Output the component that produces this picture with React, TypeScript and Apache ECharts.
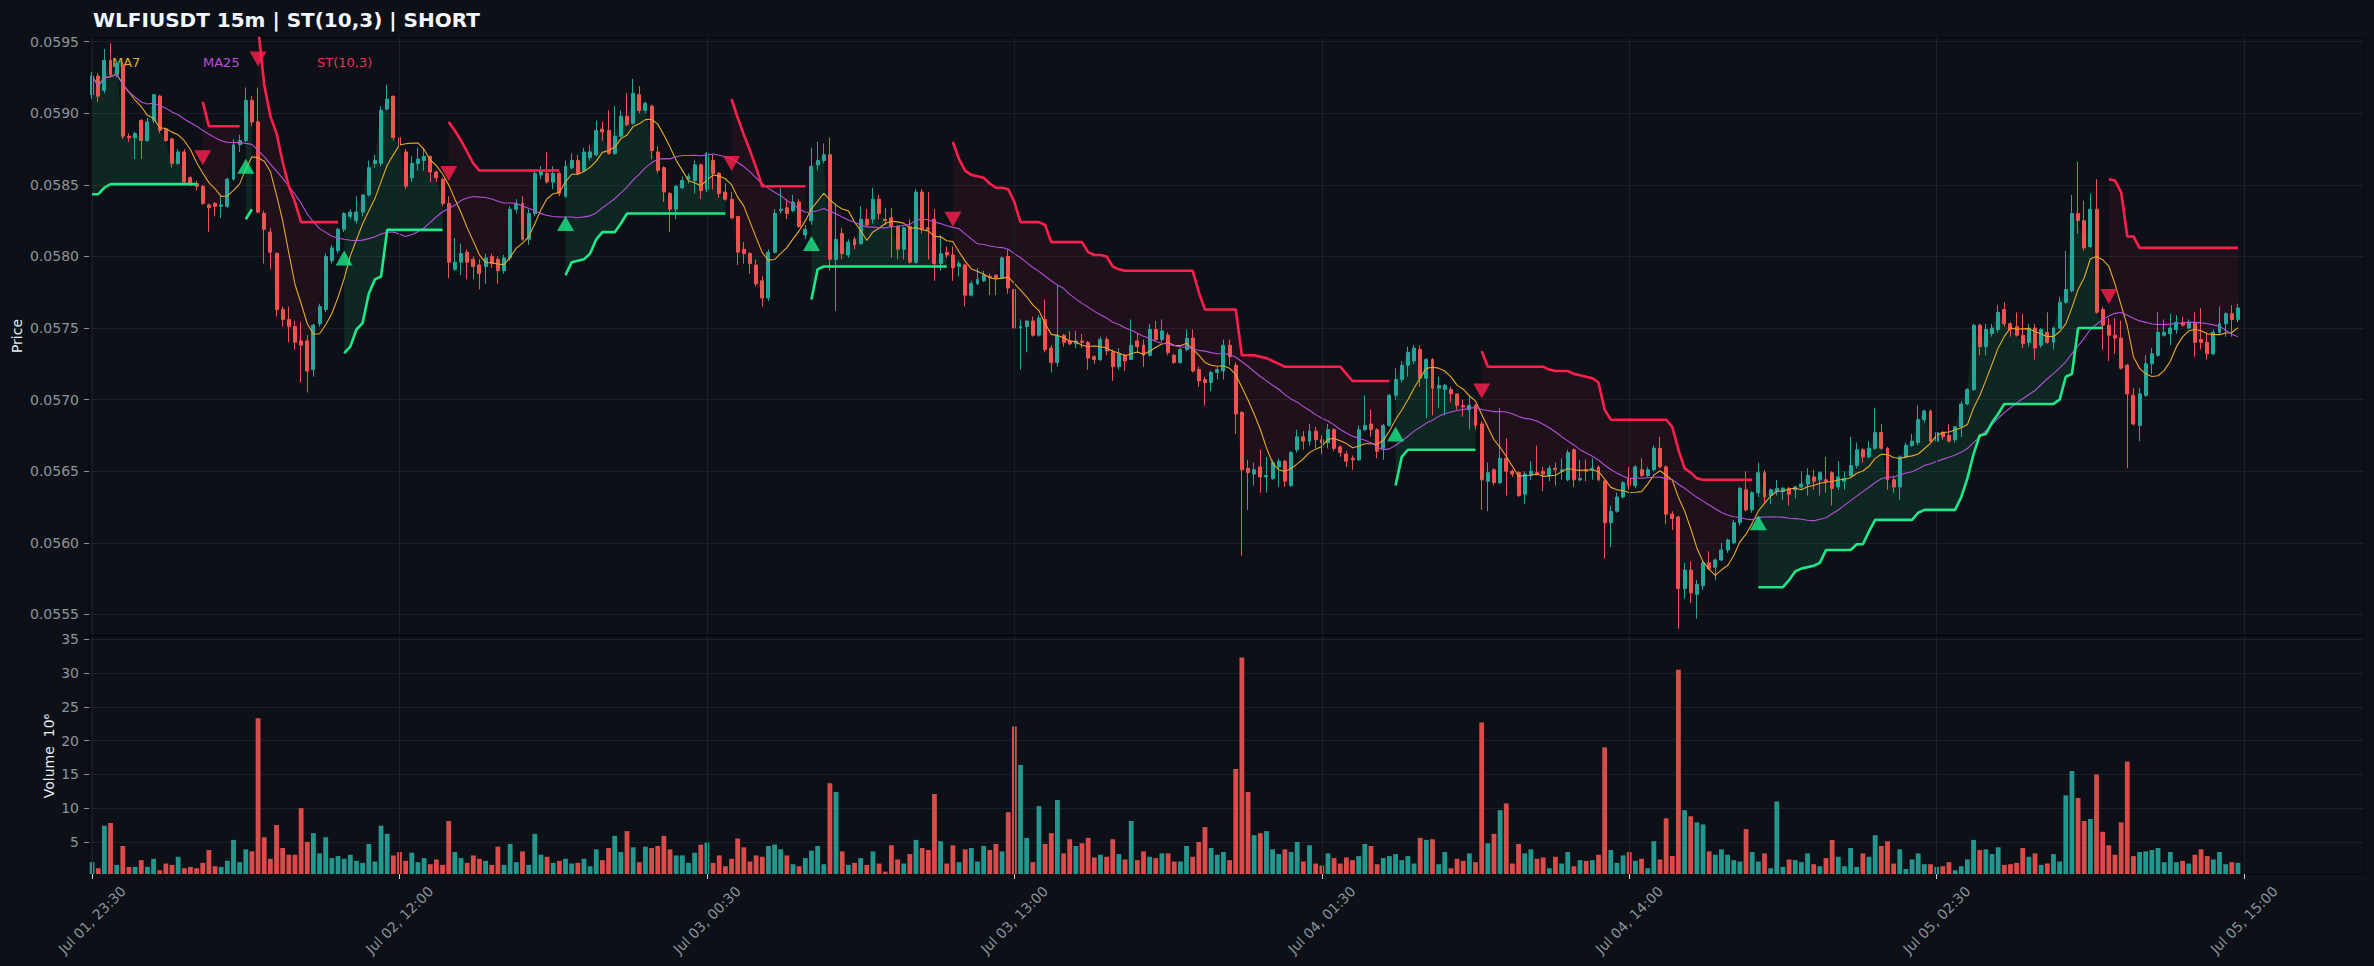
import React, { useEffect, useRef } from "react";
import * as echarts from "echarts";

// ---------- DATA (15m candles, WLFIUSDT) ----------
const opens = [
0.05913,0.05926,0.05916,0.05937,0.05927,0.05934,0.05884,0.05883,0.05895,0.05881,
0.05895,0.05912,0.05889,0.05882,0.05865,0.05873,0.05855,0.05851,0.05849,0.05836,
0.05837,0.05835,0.05835,0.05854,0.05878,0.05881,0.05909,0.05894,0.05830,0.05817,
0.05802,0.05763,0.05756,0.05751,0.05741,0.05741,0.05721,0.05753,0.05763,0.05797,
0.05804,0.05819,0.05828,0.05825,0.05831,0.05843,0.05865,0.05865,0.05903,0.05912,
0.05883,0.05873,0.05855,0.05865,0.05867,0.05870,0.05859,0.05854,0.05837,0.05791,
0.05796,0.05803,0.05798,0.05794,0.05793,0.05800,0.05798,0.05790,0.05799,0.05833,
0.05837,0.05812,0.05830,0.05857,0.05858,0.05852,0.05858,0.05842,0.05862,0.05867,
0.05860,0.05869,0.05871,0.05889,0.05888,0.05872,0.05884,0.05898,0.05893,0.05913,
0.05902,0.05905,0.05873,0.05862,0.05844,0.05833,0.05848,0.05854,0.05853,0.05864,
0.05847,0.05867,0.05858,0.05845,0.05840,0.05828,0.05805,0.05802,0.05794,0.05783,
0.05771,0.05803,0.05832,0.05834,0.05832,0.05838,0.05815,0.05825,0.05864,0.05867,
0.05871,0.05798,0.05816,0.05801,0.05812,0.05809,0.05826,0.05826,0.05840,0.05826,
0.05827,0.05821,0.05805,0.05821,0.05796,0.05845,0.05820,0.05826,0.05795,0.05803,
0.05801,0.05793,0.05794,0.05773,0.05781,0.05783,0.05786,0.05787,0.05785,0.05800,
0.05777,0.05750,0.05751,0.05755,0.05745,0.05756,0.05736,0.05726,0.05745,0.05741,
0.05739,0.05741,0.05740,0.05730,0.05728,0.05742,0.05733,0.05723,0.05731,0.05728,
0.05741,0.05738,0.05731,0.05749,0.05742,0.05745,0.05731,0.05726,0.05735,0.05743,
0.05721,0.05714,0.05712,0.05719,0.05720,0.05738,0.05724,0.05691,0.05652,0.05648,
0.05653,0.05646,0.05645,0.05653,0.05657,0.05640,0.05665,0.05674,0.05671,0.05678,
0.05672,0.05670,0.05679,0.05667,0.05662,0.05659,0.05658,0.05679,0.05683,0.05679,
0.05666,0.05682,0.05703,0.05714,0.05724,0.05727,0.05735,0.05715,0.05728,0.05708,
0.05707,0.05707,0.05704,0.05696,0.05693,0.05696,0.05683,0.05643,0.05651,0.05642,
0.05659,0.05650,0.05649,0.05634,0.05647,0.05649,0.05650,0.05647,0.05652,0.05650,
0.05644,0.05665,0.05644,0.05651,0.05651,0.05653,0.05643,0.05614,0.05622,0.05632,
0.05645,0.05640,0.05651,0.05647,0.05651,0.05666,0.05653,0.05620,0.05618,0.05568,
0.05581,0.05564,0.05570,0.05586,0.05583,0.05588,0.05595,0.05600,0.05614,0.05637,
0.05623,0.05635,0.05649,0.05633,0.05636,0.05636,0.05638,0.05637,0.05639,0.05641,
0.05646,0.05644,0.05644,0.05649,0.05639,0.05643,0.05647,0.05654,0.05665,0.05660,
0.05666,0.05677,0.05666,0.05644,0.05639,0.05660,0.05668,0.05670,0.05686,0.05692,
0.05671,0.05677,0.05675,0.05672,0.05681,0.05697,0.05707,0.05752,0.05737,0.05746,
0.05749,0.05763,0.05753,0.05751,0.05745,0.05740,0.05750,0.05738,0.05747,0.05740,
0.05750,0.05768,0.05776,0.05830,0.05825,0.05807,0.05833,0.05763,0.05752,0.05745,
0.05743,0.05724,0.05703,0.05682,0.05703,0.05725,0.05731,0.05745,0.05746,0.05749,
0.05754,0.05750,0.05754,0.05742,0.05740,0.05732,0.05747,0.05753,0.05760,0.05756,
];

const highs = [
0.05929,0.05928,0.05945,0.05949,0.05937,0.05936,0.05886,0.05887,0.05896,0.05897,
0.05913,0.05913,0.05890,0.05883,0.05875,0.05875,0.05856,0.05853,0.05850,0.05837,
0.05838,0.05842,0.05855,0.05882,0.05885,0.05918,0.05912,0.05918,0.05832,0.05820,
0.05803,0.05765,0.05765,0.05755,0.05754,0.05745,0.05753,0.05767,0.05802,0.05808,
0.05820,0.05831,0.05833,0.05842,0.05843,0.05867,0.05871,0.05905,0.05920,0.05912,
0.05894,0.05875,0.05870,0.05876,0.05876,0.05870,0.05860,0.05855,0.05842,0.05813,
0.05809,0.05805,0.05800,0.05798,0.05802,0.05802,0.05800,0.05801,0.05835,0.05840,
0.05842,0.05833,0.05860,0.05863,0.05873,0.05863,0.05859,0.05867,0.05872,0.05871,
0.05876,0.05878,0.05895,0.05894,0.05902,0.05905,0.05902,0.05914,0.05924,0.05919,
0.05908,0.05906,0.05877,0.05863,0.05845,0.05850,0.05856,0.05858,0.05867,0.05865,
0.05873,0.05871,0.05859,0.05851,0.05845,0.05828,0.05810,0.05803,0.05798,0.05786,
0.05805,0.05833,0.05848,0.05840,0.05843,0.05840,0.05822,0.05876,0.05880,0.05879,
0.05883,0.05837,0.05820,0.05812,0.05814,0.05835,0.05833,0.05848,0.05843,0.05834,
0.05834,0.05822,0.05821,0.05826,0.05847,0.05847,0.05845,0.05833,0.05815,0.05807,
0.05807,0.05797,0.05795,0.05783,0.05792,0.05790,0.05788,0.05787,0.05800,0.05805,
0.05778,0.05756,0.05755,0.05758,0.05759,0.05770,0.05738,0.05780,0.05746,0.05748,
0.05748,0.05746,0.05741,0.05731,0.05744,0.05744,0.05735,0.05736,0.05732,0.05756,
0.05746,0.05742,0.05753,0.05755,0.05756,0.05747,0.05732,0.05736,0.05749,0.05749,
0.05723,0.05716,0.05720,0.05723,0.05742,0.05742,0.05726,0.05692,0.05658,0.05656,
0.05665,0.05660,0.05658,0.05659,0.05658,0.05664,0.05679,0.05678,0.05683,0.05681,
0.05675,0.05683,0.05680,0.05668,0.05664,0.05661,0.05682,0.05703,0.05693,0.05680,
0.05683,0.05704,0.05722,0.05727,0.05737,0.05738,0.05738,0.05729,0.05729,0.05716,
0.05711,0.05709,0.05704,0.05700,0.05703,0.05697,0.05685,0.05656,0.05652,0.05694,
0.05673,0.05651,0.05650,0.05650,0.05657,0.05668,0.05653,0.05654,0.05656,0.05659,
0.05665,0.05666,0.05658,0.05658,0.05659,0.05654,0.05644,0.05626,0.05635,0.05643,
0.05653,0.05654,0.05659,0.05653,0.05668,0.05674,0.05654,0.05622,0.05619,0.05586,
0.05587,0.05574,0.05588,0.05594,0.05589,0.05600,0.05603,0.05616,0.05639,0.05650,
0.05636,0.05656,0.05651,0.05638,0.05644,0.05639,0.05639,0.05640,0.05650,0.05652,
0.05651,0.05650,0.05660,0.05650,0.05657,0.05650,0.05674,0.05670,0.05666,0.05671,
0.05694,0.05683,0.05667,0.05647,0.05661,0.05670,0.05676,0.05696,0.05693,0.05693,
0.05678,0.05678,0.05683,0.05681,0.05699,0.05708,0.05753,0.05753,0.05753,0.05753,
0.05766,0.05768,0.05754,0.05761,0.05760,0.05753,0.05753,0.05750,0.05761,0.05751,
0.05772,0.05804,0.05843,0.05866,0.05839,0.05844,0.05854,0.05765,0.05757,0.05757,
0.05755,0.05725,0.05708,0.05708,0.05731,0.05736,0.05761,0.05756,0.05760,0.05759,
0.05758,0.05756,0.05761,0.05764,0.05746,0.05749,0.05765,0.05761,0.05766,0.05767,
];

const lows = [
0.05910,0.05908,0.05914,0.05925,0.05925,0.05882,0.05880,0.05868,0.05868,0.05880,
0.05893,0.05886,0.05880,0.05862,0.05864,0.05850,0.05849,0.05846,0.05836,0.05817,
0.05828,0.05827,0.05834,0.05853,0.05873,0.05880,0.05891,0.05830,0.05795,0.05791,
0.05758,0.05751,0.05740,0.05735,0.05712,0.05705,0.05716,0.05751,0.05761,0.05795,
0.05802,0.05817,0.05826,0.05823,0.05828,0.05842,0.05862,0.05863,0.05902,0.05881,
0.05874,0.05847,0.05852,0.05860,0.05860,0.05852,0.05852,0.05835,0.05785,0.05790,
0.05787,0.05784,0.05784,0.05777,0.05781,0.05792,0.05781,0.05788,0.05797,0.05830,
0.05811,0.05808,0.05828,0.05854,0.05851,0.05847,0.05842,0.05841,0.05861,0.05857,
0.05859,0.05867,0.05870,0.05881,0.05871,0.05871,0.05883,0.05891,0.05892,0.05900,
0.05900,0.05868,0.05858,0.05838,0.05817,0.05826,0.05847,0.05851,0.05844,0.05840,
0.05845,0.05847,0.05841,0.05839,0.05826,0.05794,0.05795,0.05788,0.05779,0.05765,
0.05769,0.05802,0.05830,0.05826,0.05831,0.05820,0.05812,0.05822,0.05860,0.05865,
0.05790,0.05762,0.05798,0.05799,0.05805,0.05808,0.05821,0.05823,0.05826,0.05822,
0.05799,0.05798,0.05798,0.05795,0.05795,0.05816,0.05798,0.05783,0.05790,0.05799,
0.05783,0.05786,0.05765,0.05772,0.05780,0.05782,0.05773,0.05773,0.05784,0.05774,
0.05721,0.05721,0.05733,0.05744,0.05744,0.05733,0.05719,0.05723,0.05737,0.05738,
0.05736,0.05736,0.05721,0.05725,0.05727,0.05731,0.05713,0.05721,0.05720,0.05728,
0.05733,0.05723,0.05730,0.05741,0.05740,0.05731,0.05725,0.05725,0.05734,0.05719,
0.05709,0.05696,0.05706,0.05714,0.05714,0.05724,0.05676,0.05591,0.05623,0.05640,
0.05635,0.05635,0.05644,0.05639,0.05639,0.05639,0.05663,0.05665,0.05668,0.05666,
0.05662,0.05666,0.05664,0.05660,0.05653,0.05651,0.05657,0.05678,0.05674,0.05659,
0.05658,0.05681,0.05700,0.05712,0.05716,0.05725,0.05709,0.05687,0.05689,0.05694,
0.05689,0.05698,0.05693,0.05688,0.05679,0.05679,0.05623,0.05622,0.05640,0.05641,
0.05633,0.05646,0.05632,0.05627,0.05644,0.05647,0.05636,0.05643,0.05640,0.05644,
0.05643,0.05639,0.05643,0.05643,0.05644,0.05643,0.05589,0.05597,0.05621,0.05631,
0.05637,0.05638,0.05646,0.05646,0.05650,0.05652,0.05613,0.05609,0.05540,0.05561,
0.05558,0.05547,0.05567,0.05581,0.05574,0.05587,0.05593,0.05599,0.05612,0.05622,
0.05621,0.05632,0.05628,0.05627,0.05633,0.05630,0.05626,0.05631,0.05637,0.05633,
0.05637,0.05633,0.05635,0.05626,0.05637,0.05637,0.05646,0.05652,0.05656,0.05659,
0.05665,0.05665,0.05637,0.05635,0.05630,0.05659,0.05667,0.05668,0.05684,0.05670,
0.05669,0.05672,0.05670,0.05670,0.05674,0.05696,0.05706,0.05731,0.05731,0.05744,
0.05747,0.05751,0.05744,0.05744,0.05736,0.05737,0.05728,0.05736,0.05739,0.05735,
0.05749,0.05767,0.05775,0.05816,0.05804,0.05806,0.05760,0.05735,0.05727,0.05732,
0.05721,0.05652,0.05682,0.05671,0.05702,0.05718,0.05730,0.05744,0.05738,0.05746,
0.05751,0.05749,0.05730,0.05735,0.05728,0.05731,0.05746,0.05744,0.05744,0.05754,
];

const closes = [
0.05926,0.05912,0.05937,0.05927,0.05935,0.05884,0.05883,0.05886,0.05881,0.05894,
0.05913,0.05888,0.05881,0.05865,0.05873,0.05852,0.05851,0.05849,0.05837,0.05834,
0.05835,0.05836,0.05854,0.05878,0.05881,0.05909,0.05894,0.05831,0.05819,0.05803,
0.05763,0.05756,0.05751,0.05740,0.05738,0.05720,0.05752,0.05765,0.05800,0.05806,
0.05819,0.05830,0.05831,0.05831,0.05843,0.05862,0.05867,0.05902,0.05910,0.05883,
0.05878,0.05849,0.05865,0.05868,0.05870,0.05859,0.05855,0.05837,0.05796,0.05796,
0.05802,0.05796,0.05793,0.05788,0.05799,0.05795,0.05790,0.05799,0.05833,0.05837,
0.05812,0.05830,0.05858,0.05860,0.05852,0.05858,0.05844,0.05863,0.05867,0.05858,
0.05873,0.05873,0.05888,0.05887,0.05872,0.05884,0.05898,0.05892,0.05914,0.05902,
0.05907,0.05874,0.05860,0.05845,0.05833,0.05849,0.05853,0.05856,0.05864,0.05846,
0.05872,0.05858,0.05844,0.05840,0.05827,0.05803,0.05802,0.05795,0.05781,0.05771,
0.05803,0.05830,0.05833,0.05830,0.05838,0.05821,0.05819,0.05863,0.05867,0.05871,
0.05798,0.05812,0.05802,0.05810,0.05808,0.05826,0.05822,0.05840,0.05830,0.05825,
0.05821,0.05805,0.05820,0.05796,0.05845,0.05819,0.05819,0.05795,0.05802,0.05801,
0.05792,0.05795,0.05773,0.05781,0.05784,0.05787,0.05785,0.05785,0.05799,0.05778,
0.05750,0.05751,0.05755,0.05745,0.05757,0.05735,0.05726,0.05745,0.05740,0.05739,
0.05741,0.05740,0.05729,0.05728,0.05742,0.05734,0.05723,0.05732,0.05727,0.05738,
0.05737,0.05731,0.05749,0.05742,0.05748,0.05733,0.05726,0.05735,0.05743,0.05720,
0.05713,0.05712,0.05719,0.05721,0.05738,0.05730,0.05690,0.05651,0.05649,0.05651,
0.05646,0.05647,0.05656,0.05657,0.05643,0.05663,0.05674,0.05671,0.05678,0.05672,
0.05670,0.05679,0.05666,0.05663,0.05657,0.05658,0.05679,0.05682,0.05679,0.05664,
0.05682,0.05703,0.05714,0.05724,0.05733,0.05736,0.05715,0.05728,0.05708,0.05710,
0.05710,0.05704,0.05696,0.05695,0.05696,0.05682,0.05644,0.05649,0.05642,0.05659,
0.05650,0.05648,0.05633,0.05648,0.05650,0.05648,0.05648,0.05652,0.05651,0.05651,
0.05663,0.05644,0.05645,0.05650,0.05652,0.05644,0.05614,0.05622,0.05632,0.05642,
0.05640,0.05653,0.05647,0.05651,0.05666,0.05653,0.05620,0.05617,0.05568,0.05581,
0.05565,0.05571,0.05586,0.05582,0.05588,0.05595,0.05602,0.05614,0.05638,0.05623,
0.05635,0.05649,0.05632,0.05637,0.05638,0.05638,0.05634,0.05639,0.05641,0.05647,
0.05643,0.05649,0.05643,0.05638,0.05646,0.05645,0.05654,0.05665,0.05660,0.05666,
0.05677,0.05666,0.05644,0.05639,0.05660,0.05668,0.05671,0.05686,0.05692,0.05671,
0.05677,0.05674,0.05671,0.05681,0.05697,0.05707,0.05752,0.05737,0.05749,0.05750,
0.05761,0.05753,0.05749,0.05745,0.05739,0.05750,0.05736,0.05749,0.05740,0.05750,
0.05768,0.05777,0.05830,0.05825,0.05806,0.05833,0.05761,0.05752,0.05745,0.05743,
0.05722,0.05704,0.05683,0.05704,0.05725,0.05732,0.05747,0.05747,0.05750,0.05754,
0.05752,0.05754,0.05740,0.05740,0.05732,0.05747,0.05753,0.05760,0.05756,0.05764,
];

// volume in millions (axis shows 10^6)
const volumesM = [
2.0,1.1,7.4,7.8,1.6,4.4,1.3,1.3,2.3,1.3,
2.5,0.8,1.8,1.6,2.8,1.1,1.3,1.1,1.9,3.8,
1.4,1.3,2.2,5.3,2.0,3.9,3.6,23.3,5.7,2.5,
7.5,4.1,3.1,3.1,10.0,5.0,6.3,3.3,5.7,2.6,
2.9,2.5,3.1,2.2,1.9,4.7,2.1,7.4,6.2,3.0,
3.5,2.2,3.4,2.0,2.6,1.7,2.4,1.6,8.1,3.5,
2.6,1.9,3.0,2.5,2.2,1.6,4.3,1.6,4.7,2.0,
3.6,1.6,6.2,3.1,2.8,1.9,2.2,2.5,1.8,1.9,
2.5,1.4,3.9,2.3,4.1,5.9,3.5,6.6,4.2,2.0,
4.3,4.1,4.4,5.9,3.9,3.0,3.0,1.9,3.4,4.6,
4.9,1.9,3.0,1.4,2.5,5.5,4.2,2.1,3.0,2.8,
4.4,4.6,3.9,3.0,1.7,1.4,2.6,3.7,4.4,1.7,
13.7,12.4,3.6,1.6,1.9,2.6,1.6,3.6,1.8,0.6,
4.5,2.4,1.8,3.2,5.3,4.1,3.8,12.1,5.1,1.8,
4.5,2.0,3.9,4.1,2.1,4.4,3.8,4.7,3.6,9.4,
22.1,16.4,5.6,2.0,10.3,4.7,6.3,11.2,3.3,5.4,
4.4,4.8,5.6,2.7,3.1,2.8,5.4,3.2,2.4,8.1,
2.3,3.6,2.8,2.6,3.3,3.3,2.1,2.1,4.4,2.8,
5.0,7.2,4.1,3.1,3.5,2.3,15.8,32.3,12.4,6.0,
6.3,6.6,3.9,3.2,3.9,3.5,5.0,2.1,4.5,1.8,
1.5,3.3,2.6,1.8,2.7,2.3,2.9,4.7,4.4,1.7,
2.6,2.9,3.2,2.3,2.9,1.8,5.6,5.3,5.4,1.7,
3.5,1.1,2.5,2.2,3.3,2.0,22.7,4.8,6.2,9.7,
10.7,1.8,4.7,3.3,3.9,2.5,2.7,1.1,2.8,1.8,
3.5,1.4,2.3,2.2,2.3,3.1,19.0,3.8,1.9,3.0,
3.5,2.2,2.5,1.1,5.1,2.4,8.5,2.9,30.5,9.7,
8.8,7.9,7.6,3.6,3.1,3.9,3.1,2.3,2.1,6.9,
3.5,2.1,3.3,1.1,11.0,1.3,2.4,2.3,2.0,3.3,
1.7,1.4,2.6,5.3,2.8,1.4,4.1,1.3,3.3,2.8,
6.0,4.4,5.1,1.8,3.9,1.0,2.4,3.3,1.7,1.7,
1.3,1.4,2.0,0.8,1.4,2.4,5.3,3.8,3.9,3.2,
4.2,1.6,1.7,1.9,4.1,2.8,3.3,1.6,1.8,3.2,
2.1,11.9,15.5,11.5,8.1,8.4,15.0,6.5,4.5,3.1,
7.9,16.9,2.9,3.5,3.6,3.8,4.1,2.0,3.5,2.0,
2.2,1.8,3.1,3.9,2.9,2.4,3.5,1.7,2.0,1.9,
];

// SuperTrend(10,3) line
const stLine = [
0.058435,0.058435,0.05848,0.058505,0.058505,0.058505,0.058505,0.058505,0.058505,0.058505,
0.058505,0.058505,0.058505,0.058505,0.058505,0.058505,0.058505,0.058505,0.05908,0.05891,
0.05891,0.05891,0.05891,0.05891,0.05891,0.05826,0.05833,0.05960,0.05920,0.05898,
0.05886,0.05866,0.05849,0.05838,0.05824,0.05824,0.05824,0.05824,0.05824,0.05824,
0.05824,0.057325,0.05737,0.05749,0.057535,0.05774,0.05784,0.05786,0.058186,0.058186,
0.058186,0.058186,0.058186,0.058186,0.058186,0.058186,0.058186,0.058186,0.05894,0.05888,
0.05881,0.05873,0.05865,0.05860,0.05860,0.05860,0.05860,0.05860,0.05860,0.05860,
0.05860,0.05860,0.05860,0.05860,0.05860,0.05860,0.05860,0.05787,0.05796,0.05797,
0.05798,0.05802,0.05812,0.05817,0.05817,0.05817,0.05823,0.05830,0.05830,0.05830,
0.05830,0.05830,0.05830,0.05830,0.05830,0.05830,0.05830,0.05830,0.05830,0.05830,
0.05830,0.05830,0.05830,0.05830,0.05910,0.05897,0.05885,0.05874,0.05862,0.05849,
0.05849,0.05849,0.05849,0.05849,0.05849,0.05849,0.05849,0.05770,0.05791,0.05793,
0.05793,0.05793,0.05793,0.05793,0.05793,0.05793,0.05793,0.05793,0.05793,0.05793,
0.05793,0.05793,0.05793,0.05793,0.05793,0.05793,0.05793,0.05793,0.05793,0.05793,
0.05880,0.05868,0.05860,0.05857,0.05856,0.05855,0.05851,0.05848,0.05848,0.05847,
0.05838,0.05824,0.05824,0.05824,0.05824,0.05822,0.05810,0.05810,0.05810,0.05810,
0.05810,0.05810,0.05803,0.05801,0.05801,0.05800,0.05793,0.05791,0.05790,0.05790,
0.05790,0.05790,0.05790,0.05790,0.05790,0.05790,0.05790,0.05790,0.05790,0.05790,
0.05775,0.05763,0.05763,0.05763,0.05763,0.05763,0.05763,0.05731,0.05731,0.05731,
0.05730,0.05729,0.05727,0.05725,0.05723,0.05723,0.05723,0.05723,0.05723,0.05723,
0.05723,0.05723,0.05723,0.05723,0.05718,0.05713,0.05713,0.05713,0.05713,0.05713,
0.05713,0.05713,0.05640,0.05660,0.05665,0.05665,0.05665,0.05665,0.05665,0.05665,
0.05665,0.05665,0.05665,0.05665,0.05665,0.05665,0.05734,0.05723,0.05723,0.05723,
0.05723,0.05723,0.05723,0.05723,0.05723,0.05723,0.05723,0.05721,0.05720,0.05720,
0.05720,0.05718,0.05717,0.05716,0.05715,0.05712,0.05693,0.05686,0.05686,0.05686,
0.05686,0.05686,0.05686,0.05686,0.05686,0.05686,0.05686,0.05681,0.05665,0.05652,
0.05649,0.05645,0.05644,0.05644,0.05644,0.05644,0.05644,0.05644,0.05644,0.05644,
0.05644,0.05569,0.05569,0.05569,0.05569,0.05569,0.05574,0.05580,0.05582,0.05583,
0.05584,0.05586,0.05595,0.05595,0.05595,0.05595,0.05595,0.05599,0.05599,0.05608,
0.05616,0.05616,0.05616,0.05616,0.05616,0.05616,0.05616,0.05621,0.05623,0.05623,
0.05623,0.05623,0.05623,0.05623,0.05632,0.05645,0.05662,0.05675,0.05676,0.05684,
0.05690,0.05697,0.05697,0.05697,0.05697,0.05697,0.05697,0.05697,0.05697,0.05697,
0.05700,0.05716,0.05718,0.05750,0.05750,0.05750,0.05750,0.05750,0.05854,0.05853,
0.05845,0.05814,0.05814,0.05806,0.05806,0.05806,0.05806,0.05806,0.05806,0.05806,
0.05806,0.05806,0.05806,0.05806,0.05806,0.05806,0.05806,0.05806,0.05806,0.05806,
];

// candle indexes where the SuperTrend direction flips (starts up)
const stFlips = [18, 25, 27, 41, 58, 77, 104, 117, 140, 212, 226, 271, 328];
const stStartsUp = true;

// signal markers [candle index, price]
const buySignals = [[25, 0.05863], [41, 0.05799], [77, 0.05823], [117, 0.05809], [212, 0.05676], [271, 0.05614]];
const sellSignals = [[18, 0.05869], [27, 0.05938], [58, 0.05858], [104, 0.05865], [140, 0.05826], [226, 0.05706], [328, 0.05772]];

// axis ticks
const priceTicks = [0.0555, 0.056, 0.0565, 0.057, 0.0575, 0.058, 0.0585, 0.059, 0.0595];
const volumeTicks = [5, 10, 15, 20, 25, 30, 35];

// time axis
const startTimeUTC = Date.UTC(2025, 6, 1, 23, 30);
const candleMinutes = 15;
const axisSlots = 370;
const labelEvery = 50;
const monthNames = ["Jan","Feb","Mar","Apr","May","Jun","Jul","Aug","Sep","Oct","Nov","Dec"];

// ---------- STYLE ----------
const BG = "#0d1117";
const GRIDC = "#1b2028";
const UP = "#26a69a";
const DOWN = "#ef5350";
const MA7C = "#e8a82a";
const MA25C = "#b64fd8";
const STR = "#ff1f4d";
const STG = "#1de88a";
const TICKC = "#8b949e";
const FONT = "DejaVu Sans";

const pad2 = (v: number) => (v < 10 ? "0" + v : "" + v);
const categories: string[] = [];
for (let i = 0; i < axisSlots; i++) {
  const d = new Date(startTimeUTC + i * candleMinutes * 60000);
  categories.push(`${monthNames[d.getUTCMonth()]} ${pad2(d.getUTCDate())}, ${pad2(d.getUTCHours())}:${pad2(d.getUTCMinutes())}`);
}

function movingAverage(vals: number[], win: number) {
  return vals.map((_, i) => {
    const s = Math.max(0, i - win + 1);
    let sum = 0;
    for (let k = s; k <= i; k++) sum += vals[k];
    return sum / (i - s + 1);
  });
}

export default function App() {
  const ref = useRef<HTMLDivElement>(null);
  useEffect(() => {
    if (!ref.current) return;
    document.body.style.margin = "0";
    document.body.style.background = BG;
    const chart = echarts.init(ref.current, null, { renderer: "svg" });
    const n = closes.length;
    const dirUp: boolean[] = [];
    let up = stStartsUp;
    for (let i = 0; i < n; i++) {
      if (stFlips.indexOf(i) >= 0) up = !up;
      dirUp.push(up);
    }
    const stUp = stLine.map((v, i) => (dirUp[i] ? v : null));
    const stDown = stLine.map((v, i) => (!dirUp[i] ? v : null));
    const ma7 = movingAverage(closes, 7);
    const ma25 = movingAverage(closes, 25);
    const candleData = closes.map((c, i) => [opens[i], c, lows[i], highs[i]]);
    const volData = volumesM.map((v, i) => ({
      value: v,
      itemStyle: { color: closes[i] >= opens[i] ? "rgba(38,166,154,0.9)" : "rgba(239,83,80,0.9)" },
    }));
    const fillData = closes.slice(0, n - 1).map((c, i) => [i, c]);
    const tickIdx: number[] = [];
    for (let i = 0; i < axisSlots; i += labelEvery) tickIdx.push(i);
    const showEvery = (index: number) => index % labelEvery === 0;
    const vLines = tickIdx.map((i) => ({ xAxis: categories[i] }));
    const priceFmt = (v: number) => {
      const k = v / 0.0005;
      return Math.abs(k - Math.round(k)) < 1e-6 ? v.toFixed(4) : "";
    };
    const volFmt = (v: number) => {
      const k = v / 5;
      return Math.abs(k - Math.round(k)) < 1e-6 && v > 0 ? String(Math.round(v)) : "";
    };
    const markLineStyle = {
      silent: true,
      symbol: ["none", "none"],
      label: { show: false },
      lineStyle: { color: GRIDC, type: "solid", width: 1 },
      data: vLines,
    };

    const option: any = {
      animation: false,
      backgroundColor: BG,
      textStyle: { fontFamily: FONT },
      title: {
        text: "WLFIUSDT 15m | ST(10,3) | SHORT",
        left: 88,
        top: 5,
        textStyle: { color: "#f0f6fc", fontSize: 20, fontWeight: "bold", fontFamily: FONT },
      },
      graphic: [
        { type: "text", x: 112, y: 62, style: { text: "MA7", fill: "#d9b32c", font: `13px "${FONT}"`, verticalAlign: "middle" } },
        { type: "text", x: 203, y: 62, style: { text: "MA25", fill: "#b84fd6", font: `13px "${FONT}"`, verticalAlign: "middle" } },
        { type: "text", x: 317, y: 62, style: { text: "ST(10,3)", fill: "#e33356", font: `13px "${FONT}"`, verticalAlign: "middle" } },
        { type: "text", x: 17, y: 336, rotation: Math.PI / 2, style: { text: "Price", fill: "#e6edf3", font: `14px "${FONT}"`, align: "center", verticalAlign: "middle" } },
        { type: "text", x: 49, y: 756, rotation: Math.PI / 2, style: { text: "Volume  10⁶", fill: "#e6edf3", font: `14px "${FONT}"`, align: "center", verticalAlign: "middle" } },
      ],
      grid: [
        { left: 89, top: 38, width: 2275, height: 597, show: true, backgroundColor: BG, borderColor: "#050709", borderWidth: 1 },
        { left: 89, top: 636, width: 2275, height: 238, show: true, backgroundColor: BG, borderColor: "#050709", borderWidth: 1 },
      ],
      xAxis: [
        {
          type: "category", gridIndex: 0, data: categories, boundaryGap: true,
          axisLine: { show: false }, axisTick: { show: false }, axisLabel: { show: false }, splitLine: { show: false },
        },
        {
          type: "category", gridIndex: 1, data: categories, boundaryGap: true,
          axisLine: { show: false },
          axisTick: { show: true, interval: showEvery, alignWithLabel: true, length: 5, lineStyle: { color: "#c9d1d9" } },
          axisLabel: {
            interval: showEvery, rotate: 45, align: "center", verticalAlign: "middle", margin: 46,
            color: TICKC, fontSize: 14, fontFamily: FONT,
          },
          splitLine: { show: false },
        },
      ],
      yAxis: [
        {
          type: "value", gridIndex: 0, min: 0.055356, max: 0.059526, splitNumber: 8, scale: true,
          axisLine: { show: false },
          axisTick: { show: true, length: 5, lineStyle: { color: TICKC }, customValues: priceTicks },
          axisLabel: { formatter: priceFmt, color: TICKC, fontSize: 14, fontFamily: FONT, margin: 10, customValues: priceTicks },
          splitLine: { show: true, lineStyle: { color: GRIDC } },
        },
        {
          type: "value", gridIndex: 1, min: 0.25, max: 35.5, splitNumber: 7,
          axisLine: { show: false },
          axisTick: { show: true, length: 5, lineStyle: { color: TICKC }, customValues: volumeTicks },
          axisLabel: { formatter: volFmt, color: TICKC, fontSize: 14, fontFamily: FONT, margin: 10, customValues: volumeTicks },
          splitLine: { show: true, lineStyle: { color: GRIDC } },
        },
      ],
      series: [
        { type: "line", name: "vgrid0", xAxisIndex: 0, yAxisIndex: 0, data: [], z: 1, markLine: markLineStyle },
        { type: "line", name: "vgrid1", xAxisIndex: 1, yAxisIndex: 1, data: [], z: 1, markLine: markLineStyle },
        {
          type: "custom", name: "stFill", xAxisIndex: 0, yAxisIndex: 0, data: fillData, z: 2,
          encode: { x: 0, y: 1 }, silent: true,
          renderItem: (params: any, api: any) => {
            const i = api.value(0) as number;
            if (i + 1 >= n || dirUp[i] !== dirUp[i + 1]) return null;
            const cs = params.coordSys;
            const clamp = (p: number[]) => [p[0], Math.min(Math.max(p[1], cs.y), cs.y + cs.height)];
            const pts = [
              clamp(api.coord([i, stLine[i]])),
              clamp(api.coord([i + 1, stLine[i + 1]])),
              clamp(api.coord([i + 1, closes[i + 1]])),
              clamp(api.coord([i, closes[i]])),
            ];
            return {
              type: "polygon",
              shape: { points: pts },
              style: { fill: dirUp[i] ? "rgba(29,232,138,0.10)" : "rgba(255,31,77,0.08)", stroke: null },
            };
          },
        },
        {
          type: "candlestick", name: "Price", xAxisIndex: 0, yAxisIndex: 0, data: candleData, z: 3,
          barWidth: "56%",
          itemStyle: { color: UP, color0: DOWN, borderColor: UP, borderColor0: DOWN, borderWidth: 1 },
        },
        { type: "line", name: "MA7", xAxisIndex: 0, yAxisIndex: 0, data: ma7, showSymbol: false, z: 4, lineStyle: { color: MA7C, width: 1.1 } },
        { type: "line", name: "MA25", xAxisIndex: 0, yAxisIndex: 0, data: ma25, showSymbol: false, z: 4, lineStyle: { color: MA25C, width: 1.1 } },
        { type: "line", name: "ST up", xAxisIndex: 0, yAxisIndex: 0, data: stUp, showSymbol: false, connectNulls: false, z: 5, lineStyle: { color: STG, width: 2.6 } },
        { type: "line", name: "ST down", xAxisIndex: 0, yAxisIndex: 0, data: stDown, showSymbol: false, connectNulls: false, z: 5, lineStyle: { color: STR, width: 2.6 } },
        {
          type: "scatter", name: "Buy", xAxisIndex: 0, yAxisIndex: 0, data: buySignals, z: 6,
          symbol: "triangle", symbolSize: [17, 15], itemStyle: { color: STG },
        },
        {
          type: "scatter", name: "Sell", xAxisIndex: 0, yAxisIndex: 0, data: sellSignals, z: 6,
          symbol: "triangle", symbolRotate: 180, symbolSize: [17, 15], itemStyle: { color: STR },
        },
        {
          type: "bar", name: "Volume", xAxisIndex: 1, yAxisIndex: 1, data: volData, barWidth: "78%", z: 3,
        },
      ],
    };
    chart.setOption(option);
    return () => chart.dispose();
  }, []);
  return <div ref={ref} style={{ position: "fixed", left: 0, top: 0, width: 2374, height: 966, background: BG }} />;
}
